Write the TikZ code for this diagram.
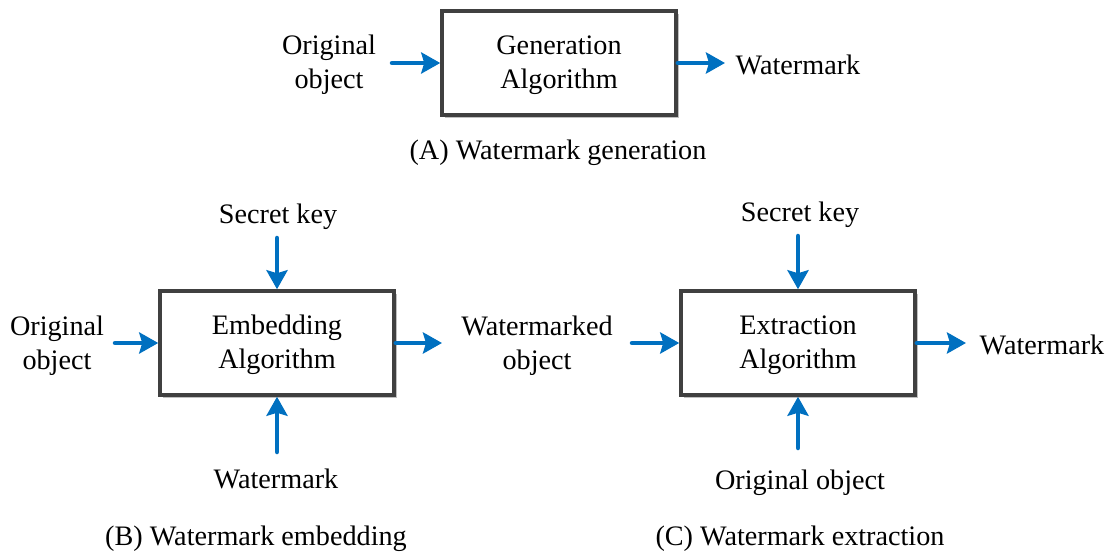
\documentclass[tikz,border=0pt]{standalone}
\usepackage{fontspec}
\setmainfont{Liberation Serif}
\usetikzlibrary{arrows.meta,shadows}
\definecolor{flowblue}{RGB}{0,112,192}
\definecolor{boxedge}{RGB}{64,64,64}
\begin{document}
\begin{tikzpicture}[x=1pt,y=-1pt,
  every node/.style={font=\fontsize{28.2}{34}\selectfont, inner sep=0pt, align=center},
  lbl/.style={yshift=-2pt},
  algbox/.style={draw=boxedge, line width=3.5pt, fill=white, minimum width=234pt, minimum height=104pt,
    drop shadow={shadow xshift=3pt, shadow yshift=-3pt, fill=black!25, opacity=1}},
  arr/.style={draw=flowblue, line width=4.5pt, line cap=round, -{Stealth[length=19pt,width=21pt,inset=3pt]}}]
\useasboundingbox (0,0) rectangle (1113,553);

% (A) watermark generation
\node[algbox] (gen) at (559,63) {};
\node[lbl] (genT) at (559,63) {Generation\\Algorithm};
\node[lbl] (origA) at (329,63) {Original\\object};
\node[lbl] (wmA) at (798,63) {Watermark};
\node[lbl] (capA) at (558,151) {(A) Watermark generation};
\coordinate (inA) at (392,63);
\coordinate (outA) at (725,63);
\draw[arr] (inA) -- (gen.west);
\draw[arr] (gen.east) -- (outA);

% (B) watermark embedding
\node[algbox] (emb) at (277,343) {};
\node[lbl] (embT) at (277,343) {Embedding\\Algorithm};
\node[lbl] (keyB) at (278,215) {Secret key};
\node[lbl] (origB) at (57,344) {Original\\object};
\node[lbl] (wmB) at (276,477) {Watermark};
\node[lbl] (marked) at (537,344) {Watermarked\\object};
\node[lbl] (capB) at (256,537) {(B) Watermark embedding};
\coordinate (keyBin) at (277,238);
\coordinate (origBin) at (115,343);
\coordinate (wmBin) at (277,452);
\coordinate (embOut) at (442,343);
\draw[arr] (keyBin) -- (emb.north);
\draw[arr] (origBin) -- (emb.west);
\draw[arr] (wmBin) -- (emb.south);
\draw[arr] (emb.east) -- (embOut);

% (C) watermark extraction
\node[algbox] (ext) at (798,343) {};
\node[lbl] (extT) at (798,343) {Extraction\\Algorithm};
\node[lbl] (keyC) at (800,213) {Secret key};
\node[lbl] (origC) at (800,481) {Original object};
\node[lbl] (wmC) at (1042,343) {Watermark};
\node[lbl] (capC) at (800,537) {(C) Watermark extraction};
\coordinate (keyCin) at (798,236);
\coordinate (markedIn) at (632,343);
\coordinate (origCin) at (798,448);
\coordinate (extOut) at (966,343);
\draw[arr] (keyCin) -- (ext.north);
\draw[arr] (markedIn) -- (ext.west);
\draw[arr] (origCin) -- (ext.south);
\draw[arr] (ext.east) -- (extOut);
\end{tikzpicture}
\end{document}
